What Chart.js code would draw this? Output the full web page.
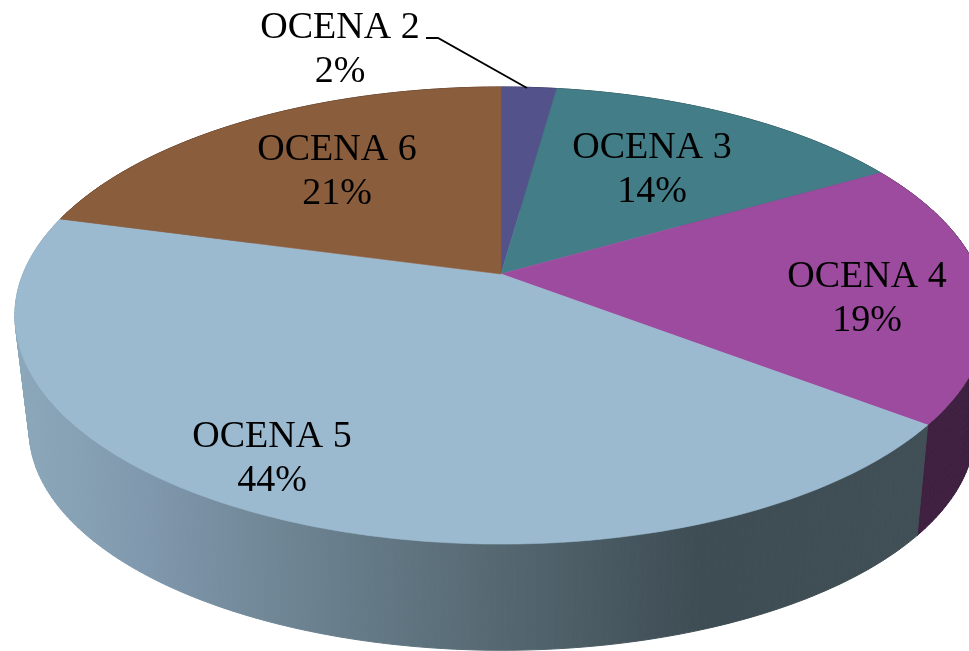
<!DOCTYPE html>
<html>
<head>
<meta charset="utf-8">
<title>Oceny</title>
<script src="https://cdn.jsdelivr.net/npm/chart.js@4/dist/chart.umd.min.js"></script>
<style>
  html, body { margin: 0; padding: 0; background: #fff; overflow: hidden; }
  canvas { display: block; }
</style>
</head>
<body>
<canvas id="pieChart" width="969" height="651"></canvas>
<script>
const categories = ['OCENA 2', 'OCENA 3', 'OCENA 4', 'OCENA 5', 'OCENA 6'];
const shares = [2.2, 14.48, 18.72, 43.8, 20.8];
const topColors = ['#54528a', '#437d87', '#9c4b9e', '#9bbad0', '#8a5d3c'];
const wallColors = ['#2c2b4a', '#24444a', '#3f2040', null, '#4a3220'];

// label anchor: center x, first baseline
const labelSpots = [[340, 38], [652, 158], [867, 287], [272, 447], [337, 160]];

// top face and bottom rim of the disc, seen in perspective
const topFace = { cx: 501, cy: 274, a: 221, b: 478, k: 0.1817 };
const bottomRim = { cx: 502, cy: 390, a: 213, b: 465, k: 0.1817 };

function project(face, angle) {
  // angle comes from the arc element, 0 = 3 o'clock in chart.js
  const u = Math.cos(angle);
  const v = Math.sin(angle);
  const w = 1 - face.k * v;
  return [face.cx + face.b * u / w, face.cy + face.a * v / w];
}

function tracePath(ctx, face, from, to, first) {
  const steps = Math.max(8, Math.ceil(Math.abs(to - from) * 60));
  for (let i = 0; i <= steps; i++) {
    const p = project(face, from + (to - from) * i / steps);
    if (first && i === 0) ctx.moveTo(p[0], p[1]);
    else ctx.lineTo(p[0], p[1]);
  }
}

function wallGradient(ctx) {
  const g = ctx.createLinearGradient(14, 0, 969, 0);
  g.addColorStop(0, '#8ca8bb');
  g.addColorStop(0.14, '#8098ad');
  g.addColorStop(0.32, '#6a808e');
  g.addColorStop(0.5, '#566973');
  g.addColorStop(0.72, '#3e4c53');
  g.addColorStop(1, '#414f56');
  return g;
}

// the wall folds over at the silhouette, so it goes down as separate quads
function drawWall(ctx, arc, paint) {
  const steps = Math.ceil((arc.endAngle - arc.startAngle) * 60);
  ctx.fillStyle = paint;
  ctx.strokeStyle = paint;
  ctx.lineWidth = 1;
  for (let i = 0; i < steps; i++) {
    const from = arc.startAngle + (arc.endAngle - arc.startAngle) * i / steps;
    const to = arc.startAngle + (arc.endAngle - arc.startAngle) * (i + 1) / steps;
    const a = project(topFace, from);
    const b = project(topFace, to);
    const c = project(bottomRim, to);
    const d = project(bottomRim, from);
    ctx.beginPath();
    ctx.moveTo(a[0], a[1]);
    ctx.lineTo(b[0], b[1]);
    ctx.lineTo(c[0], c[1]);
    ctx.lineTo(d[0], d[1]);
    ctx.closePath();
    ctx.fill();
    ctx.stroke();
  }
}

const perspectivePie = {
  id: 'perspectivePie',
  beforeDatasetsDraw(chart) {
    const ctx = chart.ctx;
    const arcs = chart.getDatasetMeta(0).data;

    // side walls first, the top faces cover the hidden back part
    arcs.forEach((arc, i) => {
      drawWall(ctx, arc, wallColors[i] || wallGradient(ctx));
    });

    arcs.forEach((arc) => {
      ctx.beginPath();
      ctx.moveTo(topFace.cx, topFace.cy);
      tracePath(ctx, topFace, arc.startAngle, arc.endAngle, false);
      ctx.closePath();
      ctx.fillStyle = arc.options.backgroundColor;
      ctx.strokeStyle = arc.options.backgroundColor;
      ctx.lineWidth = 0.6;
      ctx.fill();
      ctx.stroke();
    });

    return false;
  },
  afterDraw(chart) {
    const ctx = chart.ctx;
    const total = shares.reduce((a, b) => a + b, 0);

    // leader line for the small slice
    ctx.beginPath();
    ctx.moveTo(426, 38);
    ctx.lineTo(438, 38);
    ctx.lineTo(527, 88);
    ctx.strokeStyle = '#000';
    ctx.lineWidth = 1.8;
    ctx.stroke();

    ctx.fillStyle = '#000';
    ctx.font = '38px "Liberation Serif"';
    ctx.textAlign = 'center';
    ctx.textBaseline = 'alphabetic';
    categories.forEach((name, i) => {
      const [x, y] = labelSpots[i];
      ctx.fillText(name, x, y);
      ctx.fillText(Math.round(shares[i] / total * 100) + '%', x, y + 44);
    });
  }
};

new Chart(document.getElementById('pieChart'), {
  type: 'pie',
  data: {
    labels: categories,
    datasets: [{ data: shares, backgroundColor: topColors, borderWidth: 0 }]
  },
  options: {
    responsive: false,
    animation: false,
    plugins: {
      legend: { display: false },
      tooltip: { enabled: false }
    }
  },
  plugins: [perspectivePie]
});
</script>
</body>
</html>
